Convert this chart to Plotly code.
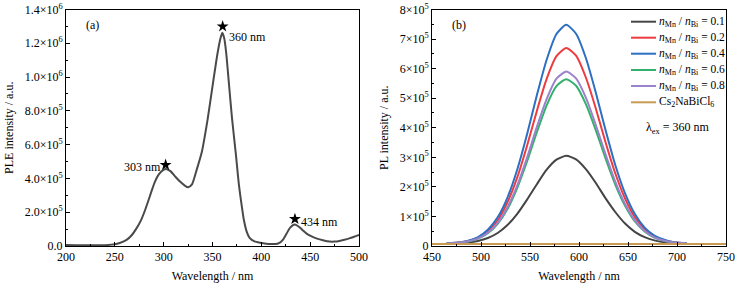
import plotly.graph_objects as go

# ---------- (a) PLE spectrum ----------
ple_wl = [200, 210, 220, 230, 240, 250, 255, 262, 267, 272, 277, 281, 285, 288, 291, 295, 299, 303,
          307, 312, 317, 322, 325, 329, 334, 339, 345, 350, 355, 358, 360, 362, 364, 367, 370, 374,
          377, 380, 382, 385, 388, 393, 399, 405, 410, 415, 419, 422, 426, 429, 432, 434, 437, 440,
          443, 446, 451, 457, 463, 470, 475, 480, 485, 490, 495, 500]
ple_int = [6e3, 5e3, 4e3, 4e3, 5e3, 10e3, 18e3, 36e3, 62e3, 103e3, 155e3, 213e3, 280e3, 332e3,
           380e3, 424e3, 448e3, 455e3, 443e3, 410e3, 380e3, 356e3, 348e3, 365e3, 455e3, 555e3,
           750e3, 945e3, 1135e3, 1225e3, 1262e3, 1230e3, 1145e3, 950e3, 755e3, 540e3, 365e3,
           235e3, 158e3, 85e3, 48e3, 27e3, 19e3, 14e3, 12e3, 12e3, 20e3, 36e3, 75e3, 105e3,
           122e3, 128e3, 120e3, 106e3, 90e3, 75e3, 58e3, 44e3, 34e3, 26e3, 26e3, 30e3, 37e3,
           45e3, 55e3, 66e3]
peak_wl = [302, 360.4, 434.4]
peak_star_y = [480e3, 1.30e6, 160e3]
peak_labels = ["303 nm", "360 nm", "434 nm"]

ple_yticks = [0, 2e5, 4e5, 6e5, 8e5, 1e6, 1.2e6, 1.4e6]
ple_yticktext = ["0.0", "2.0×10<sup>5</sup>", "4.0×10<sup>5</sup>", "6.0×10<sup>5</sup>",
                 "8.0×10<sup>5</sup>", "1.0×10<sup>6</sup>", "1.2×10<sup>6</sup>", "1.4×10<sup>6</sup>"]

# ---------- (b) PL spectra ----------
pl_wl = [465, 477, 487, 497, 507, 517, 527, 537, 547, 557, 567, 577, 587,
         597, 607, 617, 627, 637, 647, 657, 667, 677, 687, 697, 710]
pl_01 = [8e3, 10e3, 12e3, 17e3, 27e3, 44e3, 71e3, 109e3, 157e3, 209e3, 258e3, 292e3, 305e3,
         293e3, 260e3, 214e3, 162e3, 115e3, 76e3, 48e3, 30e3, 19e3, 13e3, 10e3, 9e3]
pl_02 = [9e3, 12e3, 17e3, 28e3, 50e3, 87e3, 148e3, 232e3, 339e3, 457e3, 565e3, 642e3, 670e3,
         644e3, 570e3, 467e3, 352e3, 246e3, 160e3, 97e3, 57e3, 32e3, 19e3, 13e3, 9e3]
pl_04 = [9e3, 12e3, 18e3, 30e3, 55e3, 97e3, 164e3, 259e3, 378e3, 510e3, 630e3, 717e3, 748e3,
         718e3, 636e3, 521e3, 393e3, 274e3, 178e3, 108e3, 62e3, 35e3, 21e3, 13e3, 10e3]
pl_06 = [9e3, 11e3, 15e3, 25e3, 43e3, 75e3, 125e3, 197e3, 286e3, 385e3, 476e3, 541e3, 564e3,
         542e3, 480e3, 393e3, 297e3, 208e3, 136e3, 83e3, 49e3, 28e3, 17e3, 12e3, 9e3]
pl_08 = [9e3, 11e3, 16e3, 26e3, 45e3, 78e3, 131e3, 205e3, 299e3, 403e3, 497e3, 566e3, 590e3,
         567e3, 502e3, 411e3, 311e3, 218e3, 142e3, 87e3, 51e3, 29e3, 18e3, 12e3, 9e3]
host_wl = [450, 525, 600, 675, 750]
host_int = [7e3, 7e3, 7e3, 7e3, 7e3]

pl_series = [
    ("<i>n</i><sub>Mn</sub> / <i>n</i><sub>Bi</sub> = 0.1", pl_wl, pl_01, "#454545"),
    ("<i>n</i><sub>Mn</sub> / <i>n</i><sub>Bi</sub> = 0.2", pl_wl, pl_02, "#ee3b3f"),
    ("<i>n</i><sub>Mn</sub> / <i>n</i><sub>Bi</sub> = 0.4", pl_wl, pl_04, "#2d6fc2"),
    ("<i>n</i><sub>Mn</sub> / <i>n</i><sub>Bi</sub> = 0.6", pl_wl, pl_06, "#33b06c"),
    ("<i>n</i><sub>Mn</sub> / <i>n</i><sub>Bi</sub> = 0.8", pl_wl, pl_08, "#9c82cc"),
    ("Cs<sub>2</sub>NaBiCl<sub>6</sub>", host_wl, host_int, "#c79a52"),
]
pl_yticks = [0, 1e5, 2e5, 3e5, 4e5, 5e5, 6e5, 7e5, 8e5]
pl_yticktext = ["0"] + [f"{i}×10<sup>5</sup>" for i in range(1, 9)]

FONT = "Liberation Serif"
W, H = 738, 287
fig = go.Figure()

fig.add_trace(go.Scatter(x=ple_wl, y=ple_int, mode="lines",
                         line=dict(color="#4a4a4a", width=2, shape="spline", smoothing=0.6),
                         showlegend=False, xaxis="x", yaxis="y"))
fig.add_trace(go.Scatter(x=peak_wl, y=peak_star_y, mode="markers",
                         marker=dict(symbol="star", size=9, color="black", line=dict(width=0)),
                         showlegend=False, xaxis="x", yaxis="y"))

for name, xs, ys, col in pl_series:
    fig.add_trace(go.Scatter(x=xs, y=ys, mode="lines", name=name, showlegend=False,
                             line=dict(color=col, width=2, shape="spline", smoothing=0.6),
                             xaxis="x2", yaxis="y2"))

axis_common = dict(showline=True, linecolor="black", linewidth=1, mirror=True, ticks="inside",
                   ticklen=4, tickcolor="black", showgrid=False, zeroline=False, automargin=False,
                   tickfont=dict(family=FONT, size=12, color="black"))
ydom = [41/H, 277.5/H]

fig.update_layout(
    width=W, height=H, margin=dict(l=0, r=0, t=0, b=0),
    paper_bgcolor="white", plot_bgcolor="white", showlegend=False,
    font=dict(family=FONT, size=12, color="black"),
    xaxis=dict(domain=[66/W, 359/W], range=[200, 500], tickvals=[200, 250, 300, 350, 400, 450, 500],
               minor=dict(ticks="inside", dtick=25, ticklen=2, tickcolor="black"),
               title=dict(text="Wavelength / nm", font=dict(family=FONT, size=12), standoff=8), **axis_common),
    yaxis=dict(domain=ydom, range=[0, 1.4e6], tickvals=ple_yticks, ticktext=ple_yticktext,
               minor=dict(ticks="inside", dtick=1e5, ticklen=2, tickcolor="black"),
               title=dict(text="PLE intensity / a.u.", font=dict(family=FONT, size=12), standoff=8), **axis_common),
    xaxis2=dict(domain=[432/W, 726/W], range=[450, 750], tickvals=[450, 500, 550, 600, 650, 700, 750],
                minor=dict(ticks="inside", dtick=25, ticklen=2, tickcolor="black"), anchor="y2",
                title=dict(text="Wavelength / nm", font=dict(family=FONT, size=12), standoff=8), **axis_common),
    yaxis2=dict(domain=ydom, range=[0, 8e5], tickvals=pl_yticks, ticktext=pl_yticktext,
                minor=dict(ticks="inside", dtick=5e4, ticklen=2, tickcolor="black"), anchor="x2",
                title=dict(text="PL intensity / a.u.", font=dict(family=FONT, size=12), standoff=8), **axis_common),
)

# manual legend (compact spacing like the reference)
leg_y = [21.7, 37.7, 53.7, 70, 86, 102.3]
for (name, xs, ys, col), ly in zip(pl_series, leg_y):
    fig.add_shape(type="line", xref="paper", yref="paper", x0=631/W, x1=656/W, y0=1-ly/H, y1=1-ly/H,
                  line=dict(color=col, width=2))
    fig.add_annotation(xref="paper", yref="paper", x=657/W, y=1-ly/H, text=name, showarrow=False,
                       xanchor="left", yanchor="middle", font=dict(family=FONT, size=11.5, color="black"))

annots = [
    dict(x=92.5/W, y=1-25/H, text="(a)"),
    dict(x=459/W, y=1-25/H, text="(b)"),
    dict(x=677.5/W, y=1-128.3/H, text="λ<sub>ex</sub> = 360 nm"),
    dict(x=142.5/W, y=1-166.7/H, text=peak_labels[0]),
    dict(x=247.5/W, y=1-36.7/H, text=peak_labels[1]),
    dict(x=319.5/W, y=1-222.3/H, text=peak_labels[2]),
]
for a in annots:
    fig.add_annotation(xref="paper", yref="paper", showarrow=False, xanchor="center", yanchor="middle",
                       font=dict(family=FONT, size=12, color="black"), **a)

fig.write_html("out.html", config={"displayModeBar": False},
               post_script="document.body.style.margin='0';document.body.style.overflow='hidden';")
